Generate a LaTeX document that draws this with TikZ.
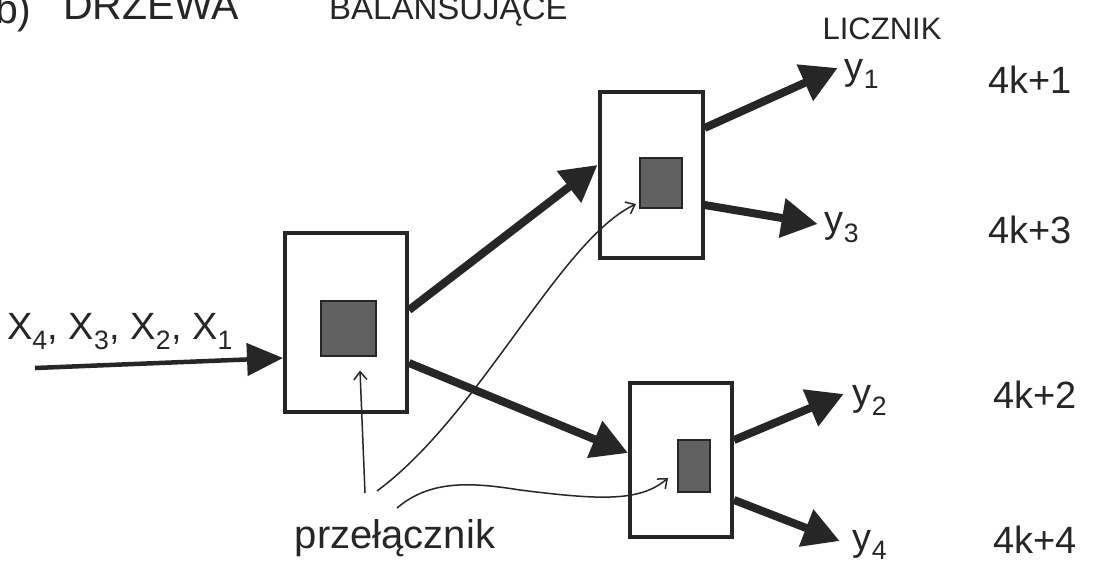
\documentclass[tikz,border=0pt]{standalone}
\usepackage{fontspec}
\setmainfont{Liberation Sans}
\usetikzlibrary{arrows.meta}
\definecolor{pencil}{gray}{0.15}
\definecolor{shade}{gray}{0.38}
\tikzset{
  box/.style={draw=pencil, line width=4pt, fill=white, inner sep=0pt},
  sq/.style={draw=pencil, line width=2pt, fill=shade, inner sep=0pt},
  fat/.style={draw=pencil, line width=8pt, -{Triangle[length=36pt,width=38pt]}},
  inarrow/.style={draw=pencil, line width=4.5pt, -{Triangle[length=36pt,width=32pt]}},
  hair/.style={draw=pencil, line width=1.5pt, -{Straight Barb[length=8pt,width=13pt]}},
  lbl/.style={inner sep=1pt, text=pencil, font=\fontsize{38}{40}\selectfont},
  ttl/.style={inner sep=1pt, text=pencil, anchor=base west, font=\fontsize{41}{43}\selectfont},
}
\begin{document}
\begin{tikzpicture}[x=1pt,y=-1pt]
\useasboundingbox (0,0) rectangle (1099,572);
\clip (0,0) rectangle (1099,572);
\fill[white] (0,0) rectangle (1099,572);

% title (cut off at the top, as in the reference)
\node[ttl] (t0) at (-6,24) {b)};
\node[ttl] (t1) at (62,20) {DRZEWA};
\node[ttl, font=\fontsize{33}{35}\selectfont] (t2) at (328,20) {BALANSUJĄCE};
\node[lbl, inner sep=0pt, font=\fontsize{31}{33}\selectfont] (licz) at (882,29) {LICZNIK};

% boxes
\node[box, minimum width=122pt, minimum height=179pt] (A) at (346,322) {};
\node[sq, minimum width=55pt, minimum height=55pt] (a) at (348,328) {};
\node[box, minimum width=103pt, minimum height=166pt] (B) at (651,175) {};
\node[sq, minimum width=42pt, minimum height=50pt] (b) at (661,183) {};
\node[box, minimum width=102pt, minimum height=154pt] (C) at (681,460) {};
\node[sq, minimum width=32pt, minimum height=52pt] (c) at (694,466) {};

% input
\node[lbl] (xl) at (120,332) {X\textsubscript{4}, X\textsubscript{3}, X\textsubscript{2}, X\textsubscript{1}};
\coordinate (in) at (35,368);
\draw[inarrow] (in) -- ([yshift=-36pt]A.west);

% outputs
\node[lbl, inner sep=0pt] (y1) at (862,74) {y\textsubscript{1}};
\node[lbl] (y3) at (842,228) {y\textsubscript{3}};
\node[lbl] (y2) at (870,400) {y\textsubscript{2}};
\node[lbl] (y4) at (870,545) {y\textsubscript{4}};
\node[lbl] (k1) at (1030,80) {4k+1};
\node[lbl] (k3) at (1030,230) {4k+3};
\node[lbl] (k2) at (1035,395) {4k+2};
\node[lbl] (k4) at (1035,540) {4k+4};

% thick connectors
\draw[fat] ([yshift=12pt]A.east) -- ([yshift=10pt]B.west);
\draw[fat] ([yshift=-41pt]A.east) -- ([yshift=7pt]C.west);
\draw[fat] ([yshift=47pt]B.east) -- ([xshift=-7pt,yshift=6pt]y1.west);
\draw[fat] ([yshift=-30pt]B.east) -- ([xshift=-6pt,yshift=4pt]y3.west);
\draw[fat] ([yshift=20pt]C.east) -- ([xshift=-8pt,yshift=6pt]y2.west);
\draw[fat] ([yshift=-40pt]C.east) -- ([xshift=-12pt,yshift=4pt]y4.west);

% switch label and thin arrows
\node[lbl, font=\fontsize{40}{42}\selectfont] (p) at (395,538) {przełącznik};
\draw[hair] ([xshift=-30pt,yshift=45pt]p.center) -- ([xshift=12pt,yshift=-14pt]a.south);
\draw[hair] ([xshift=-18pt,yshift=47pt]p.center) .. controls (480,415) and (560,240) .. ([xshift=-3pt,yshift=5pt]b.south west);
\draw[hair] ([xshift=2pt,yshift=30pt]p.center) .. controls (430,480) and (470,482) .. (520,490) .. controls (600,500) and (640,502) .. ([xshift=-9pt,yshift=-12pt]c.west);
\end{tikzpicture}
\end{document}
